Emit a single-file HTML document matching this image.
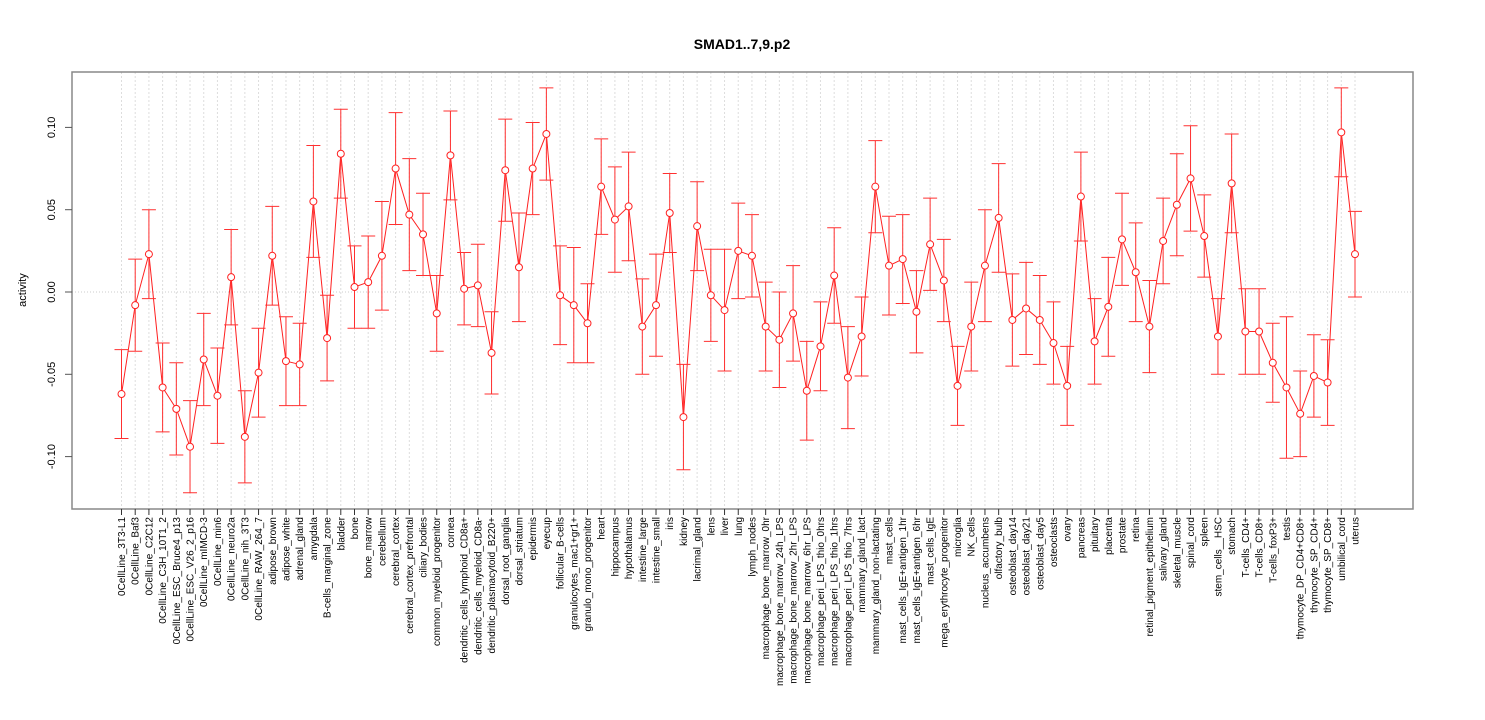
<!DOCTYPE html>
<html><head><meta charset="utf-8"><style>
body{margin:0;background:#fff}
svg{display:block;font-family:"Liberation Sans",sans-serif}
</style></head><body>
<svg id="chart" width="1485" height="720" viewBox="0 0 1485 720" xmlns="http://www.w3.org/2000/svg">
<text x="742" y="49" text-anchor="middle" font-size="14" font-weight="bold">SMAD1..7,9.p2</text>
<text transform="translate(26,290) rotate(-90)" text-anchor="middle" font-size="11">activity</text>
<g id="grid"></g>
<rect x="72" y="72" width="1341" height="437" fill="none" stroke="#888" stroke-width="1.5"/>
<g id="axes"></g>
<g id="marks"></g>
</svg>
<script>
const categories=["0CellLine_3T3-L1","0CellLine_Baf3","0CellLine_C2C12","0CellLine_C3H_10T1_2","0CellLine_ESC_Bruce4_p13","0CellLine_ESC_V26_2_p16","0CellLine_mIMCD-3","0CellLine_min6","0CellLine_neuro2a","0CellLine_nih_3T3","0CellLine_RAW_264_7","adipose_brown","adipose_white","adrenal_gland","amygdala","B-cells_marginal_zone","bladder","bone","bone_marrow","cerebellum","cerebral_cortex","cerebral_cortex_prefrontal","ciliary_bodies","common_myeloid_progenitor","cornea","dendritic_cells_lymphoid_CD8a+","dendritic_cells_myeloid_CD8a-","dendritic_plasmacytoid_B220+","dorsal_root_ganglia","dorsal_striatum","epidermis","eyecup","follicular_B-cells","granulocytes_mac1+gr1+","granulo_mono_progenitor","heart","hippocampus","hypothalamus","intestine_large","intestine_small","iris","kidney","lacrimal_gland","lens","liver","lung","lymph_nodes","macrophage_bone_marrow_0hr","macrophage_bone_marrow_24h_LPS","macrophage_bone_marrow_2hr_LPS","macrophage_bone_marrow_6hr_LPS","macrophage_peri_LPS_thio_0hrs","macrophage_peri_LPS_thio_1hrs","macrophage_peri_LPS_thio_7hrs","mammary_gland_lact","mammary_gland_non-lactating","mast_cells","mast_cells_IgE+antigen_1hr","mast_cells_IgE+antigen_6hr","mast_cells_IgE","mega_erythrocyte_progenitor","microglia","NK_cells","nucleus_accumbens","olfactory_bulb","osteoblast_day14","osteoblast_day21","osteoblast_day5","osteoclasts","ovary","pancreas","pituitary","placenta","prostate","retina","retinal_pigment_epithelium","salivary_gland","skeletal_muscle","spinal_cord","spleen","stem_cells__HSC","stomach","T-cells_CD4+","T-cells_CD8+","T-cells_foxP3+","testis","thymocyte_DP_CD4+CD8+","thymocyte_SP_CD4+","thymocyte_SP_CD8+","umbilical_cord","uterus"];
const values=[-0.062,-0.008,0.023,-0.058,-0.071,-0.094,-0.041,-0.063,0.009,-0.088,-0.049,0.022,-0.042,-0.044,0.055,-0.028,0.084,0.003,0.006,0.022,0.075,0.047,0.035,-0.013,0.083,0.002,0.004,-0.037,0.074,0.015,0.075,0.096,-0.002,-0.008,-0.019,0.064,0.044,0.052,-0.021,-0.008,0.048,-0.076,0.040,-0.002,-0.011,0.025,0.022,-0.021,-0.029,-0.013,-0.060,-0.033,0.010,-0.052,-0.027,0.064,0.016,0.020,-0.012,0.029,0.007,-0.057,-0.021,0.016,0.045,-0.017,-0.010,-0.017,-0.031,-0.057,0.058,-0.030,-0.009,0.032,0.012,-0.021,0.031,0.053,0.069,0.034,-0.027,0.066,-0.024,-0.024,-0.043,-0.058,-0.074,-0.051,-0.055,0.097,0.023];
const errors=[0.027,0.028,0.027,0.027,0.028,0.028,0.028,0.029,0.029,0.028,0.027,0.030,0.027,0.025,0.034,0.026,0.027,0.025,0.028,0.033,0.034,0.034,0.025,0.023,0.027,0.022,0.025,0.025,0.031,0.033,0.028,0.028,0.030,0.035,0.024,0.029,0.032,0.033,0.029,0.031,0.024,0.032,0.027,0.028,0.037,0.029,0.025,0.027,0.029,0.029,0.030,0.027,0.029,0.031,0.024,0.028,0.030,0.027,0.025,0.028,0.025,0.024,0.027,0.034,0.033,0.028,0.028,0.027,0.025,0.024,0.027,0.026,0.030,0.028,0.030,0.028,0.026,0.031,0.032,0.025,0.023,0.030,0.026,0.026,0.024,0.043,0.026,0.025,0.026,0.027,0.026];
const yTicks=[-0.10,-0.05,0.00,0.05,0.10];
const yTickLabels=["-0.10","-0.05","0.00","0.05","0.10"];

const NS="http://www.w3.org/2000/svg";
function xPos(i){return 121.5+i*(1355-121.5)/(categories.length-1);}
function yPos(v){return 292-v*(82.3/0.05);}
function mk(tag,attrs,parent){const e=document.createElementNS(NS,tag);for(const k in attrs)e.setAttribute(k,attrs[k]);parent.appendChild(e);return e;}
const axes=document.getElementById('axes'),marks=document.getElementById('marks'),grid=document.getElementById('grid');
yTicks.forEach((t,i)=>{
 const tk=mk('line',{x1:65,x2:72,y1:yPos(t),y2:yPos(t),stroke:'#555'},axes);
 
 
 const tx=mk('text',{x:0,y:0,'font-size':11,'text-anchor':'middle',transform:`translate(55,${yPos(t)}) rotate(-90)`},axes);
 tx.textContent=yTickLabels[i];
 
 
});
const zl=mk('line',{x1:72,x2:1413,y1:yPos(0),y2:yPos(0),stroke:'#ccc','stroke-dasharray':'1,2'},grid);


categories.forEach((c,i)=>{
 const x=xPos(i);
 const gl=mk('line',{x1:x,x2:x,y1:72,y2:509,stroke:'#ddd','stroke-dasharray':'2,2'},grid);
 
 
 const tk=mk('line',{x1:x,x2:x,y1:509,y2:515,stroke:'#333'},axes);
 
 
 const tx=mk('text',{x:0,y:0,'font-size':10,'text-anchor':'end',transform:`translate(${x+3.5},517) rotate(-90)`},axes);
 tx.textContent=c;
 
 
});
let d='';
values.forEach((v,i)=>{d+=(i?'L':'M')+xPos(i)+','+yPos(v);});
const ln=mk('path',{d:d,fill:'none',stroke:'#ff2020','stroke-width':1},marks);


values.forEach((v,i)=>{
 const x=xPos(i),y=yPos(v),yt=yPos(v+errors[i]),yb=yPos(v-errors[i]);
 const g=mk('g',{},marks);
 
 
 mk('path',{d:`M${x},${yt}L${x},${yb}M${x-7},${yt}L${x+7},${yt}M${x-7},${yb}L${x+7},${yb}`,stroke:'#ff3030','stroke-width':1,fill:'none'},g);
 mk('circle',{cx:x,cy:y,r:3.5,fill:'#fff',stroke:'#ff2020','stroke-width':1},g);
});
</script>
</body></html>
